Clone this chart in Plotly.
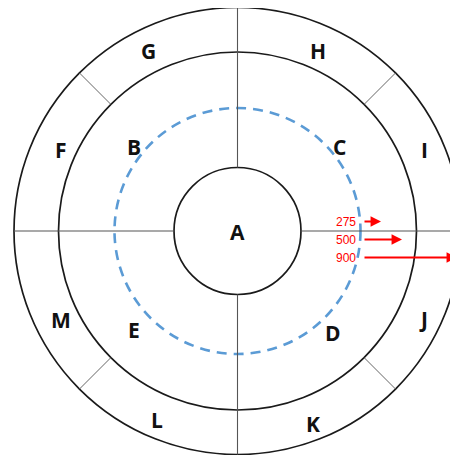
import plotly.graph_objects as go

# ---- data ----
region_labels = ["A", "B", "C", "D", "E", "F", "G", "H", "I", "J", "K", "L", "M"]
arrow_values = [275, 500, 900]

# ---- layout (pixel-like coordinate system of the 458x455 picture) ----
W, H = 458, 455
OFF = 8  # page body margin
cx, cy = 237.5, 231
r_inner, r_dash, r_mid, r_outer = 63.5, 123, 179, 223.5

label_pos = {
    "A": (237, 232), "B": (134, 147), "C": (339, 147), "D": (333, 333),
    "E": (134, 330), "F": (61, 150), "G": (148, 51), "H": (318, 51),
    "I": (424, 150), "J": (423, 319), "K": (313, 424), "L": (157, 420),
    "M": (61, 320),
}
arrow_y = [221.5, 239.5, 257.5]
arrow_tip_x = [381, 402, 457]
arrow_tail_x = 363

fig = go.Figure()
fig.add_trace(go.Scatter(x=[OFF, W], y=[OFF, H], mode="markers",
                         marker=dict(opacity=0), hoverinfo="skip", showlegend=False))

shapes = []
circle_line = dict(color="#1a1a1a", width=1.7)
for r in (r_inner, r_mid, r_outer):
    shapes.append(dict(type="circle", xref="x", yref="y",
                       x0=cx - r, x1=cx + r, y0=cy - r, y1=cy + r,
                       line=circle_line))
shapes.append(dict(type="circle", xref="x", yref="y",
                   x0=cx - r_dash, x1=cx + r_dash, y0=cy - r_dash, y1=cy + r_dash,
                   line=dict(color="#5B9BD5", width=2.6, dash="10px,7px")))

radial_line = dict(color="#555555", width=1.1)
shapes.append(dict(type="line", x0=cx, x1=cx, y0=cy - r_outer, y1=cy - r_inner, line=radial_line))
shapes.append(dict(type="line", x0=cx, x1=cx, y0=cy + r_inner, y1=cy + r_outer, line=radial_line))
shapes.append(dict(type="line", x0=cx - r_outer, x1=cx - r_inner, y0=cy, y1=cy, line=radial_line))
shapes.append(dict(type="line", x0=cx + r_inner, x1=cx + r_outer, y0=cy, y1=cy, line=radial_line))
d = 0.70710678
for sx, sy in ((1, 1), (1, -1), (-1, 1), (-1, -1)):
    shapes.append(dict(type="line",
                       x0=cx + sx * r_mid * d, y0=cy + sy * r_mid * d,
                       x1=cx + sx * r_outer * d, y1=cy + sy * r_outer * d,
                       line=dict(color="#666666", width=1)))

annotations = []
for lab in region_labels:
    x, y = label_pos[lab]
    annotations.append(dict(x=x, y=y, xref="x", yref="y", text=lab, showarrow=False,
                            font=dict(family="Open Sans", size=21, color="#111111", weight="bold"),
                            xanchor="center", yanchor="middle"))

for v, y, tip in zip(arrow_values, arrow_y, arrow_tip_x):
    annotations.append(dict(x=358, y=y, xref="x", yref="y", text=str(v), showarrow=False,
                            font=dict(family="Liberation Sans", size=12, color="#FF0000"),
                            xanchor="right", yanchor="middle"))
    annotations.append(dict(x=tip, y=y, xref="x", yref="y", ax=arrow_tail_x, ay=y,
                            axref="x", ayref="y", text="", showarrow=True,
                            arrowhead=2, arrowsize=0.95, arrowwidth=2.2, arrowcolor="#FF0000"))

fig.update_layout(
    width=W - OFF, height=H - OFF, margin=dict(l=0, r=0, t=0, b=0),
    paper_bgcolor="white", plot_bgcolor="white",
    xaxis=dict(range=[OFF, W], visible=False, fixedrange=True),
    yaxis=dict(range=[H, OFF], visible=False, fixedrange=True),
    shapes=shapes, annotations=annotations, showlegend=False,
)

fig.write_html("out.html")
